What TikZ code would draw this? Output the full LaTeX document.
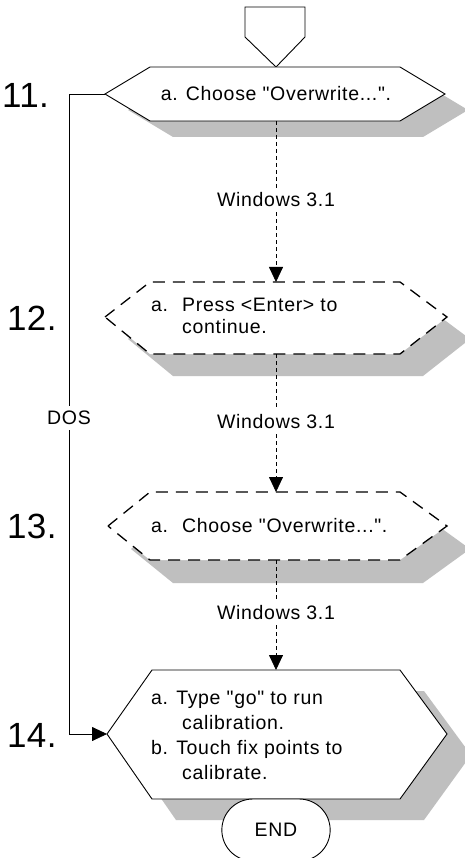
\documentclass[tikz,border=0pt]{standalone}
\usepackage{fontspec}
\setmainfont{Liberation Sans}[LetterSpace=3.5,Ligatures=TeXOff]
\newfontfamily\stepfont{Liberation Sans}[Ligatures=TeXOff,LetterSpace=1]
\usetikzlibrary{arrows.meta,shapes.misc}
\begin{document}
\begin{tikzpicture}[x=1pt,y=-1pt,
  txt/.style={font=\fontsize{19.5}{22}\selectfont, inner sep=0pt, align=left},
  stepnum/.style={font=\stepfont\fontsize{35}{35}\selectfont, anchor=base west, inner sep=0pt},
  shade/.style={fill=black!25, draw=none},
  hexsolid/.style={draw=black, fill=white, line width=0.9pt, line join=miter},
  hexdash/.style={draw=black, fill=white, line width=1.3pt, dash pattern=on 12pt off 8pt},
  flow/.style={line width=0.8pt, dash pattern=on 4pt off 3pt},
  arr/.style={-{Triangle[width=14pt,length=15pt]}},
  lbl/.style={font=\fontsize{19.5}{22}\selectfont, inner sep=5pt},
]
\clip (0,0) rectangle (465,858);
\fill[white] (0,0) rectangle (465,858);

% shadows
\fill[shade] (128,110) -- (173,83) -- (423,83) -- (468,110) -- (423,137) -- (173,137) -- cycle;
\fill[shade] (128,339) -- (173,304) -- (423,304) -- (470,339) -- (423,376) -- (173,376) -- cycle;
\fill[shade] (131,549) -- (173,515) -- (423,515) -- (470,549) -- (423,583) -- (173,583) -- cycle;
\fill[shade] (131,755) -- (176,691) -- (424,691) -- (471,755) -- (424,820) -- (176,820) -- cycle;

% off-page connector
\draw[line width=0.9pt] (245,7) -- (305,7) -- (305,37) -- (276,67) -- (245,37) -- cycle;

% hexagons
\draw[hexsolid] (105,94) -- (150,67) -- (400,67) -- (445,94) -- (400,121) -- (150,121) -- cycle;
\coordinate (h11t) at (276,67);
\coordinate (h11b) at (276,121);
\coordinate (h11l) at (105,94);

\draw[hexdash] (105,317) -- (150,282) -- (400,282) -- (447,317) -- (400,354) -- (150,354) -- cycle;
\coordinate (h12t) at (276,282);
\coordinate (h12b) at (276,354);

\draw[hexdash] (108,526) -- (150,492) -- (400,492) -- (447,526) -- (400,560) -- (150,560) -- cycle;
\coordinate (h13t) at (276,492);
\coordinate (h13b) at (276,560);

\draw[hexsolid] (107,734) -- (152,670) -- (400,670) -- (447,734) -- (400,799) -- (152,799) -- cycle;
\coordinate (h14t) at (276,670);
\coordinate (h14l) at (107,734);

% texts
\node[txt] (t11) at (276,94) {a. Choose "Overwrite...".};
\node[txt, anchor=west] (t12) at (151,316) {\makebox[31pt][l]{a.}Press <Enter> to\\\hspace*{31pt}continue.};
\node[txt, anchor=west] (t13) at (151,526) {\makebox[31pt][l]{a.}Choose "Overwrite...".};
\node[txt, anchor=west, font=\fontsize{19.5}{25}\selectfont] (t14) at (151,735) {a. Type "go" to run\\\hspace*{31pt}calibration.\\b. Touch fix points to\\\hspace*{31pt}calibrate.};

% step numbers
\node[stepnum] (n11) at (2,108) {11.};
\node[stepnum] (n12) at (7,330) {12.};
\node[stepnum] (n13) at (7,538) {13.};
\node[stepnum] (n14) at (7,747) {14.};

% labels
\node[lbl] (w1) at (276,200) {Windows 3.1};
\node[lbl] (w2) at (276,422) {Windows 3.1};
\node[lbl] (w3) at (276,613) {Windows 3.1};
\node[lbl] (dos) at (69,418) {DOS};

% connectors
\draw[flow] (h11b) -- (w1);
\draw[flow,arr] (w1) -- (h12t);
\draw[flow] (h12b) -- (w2);
\draw[flow,arr] (w2) -- (h13t);
\draw[flow] (h13b) -- (w3);
\draw[flow,arr] (w3) -- (h14t);
\draw[line width=0.8pt] (h11l) -| (dos.north);
\draw[line width=0.8pt,arr] (dos.south) |- (h14l);

% end terminal
\node[rounded rectangle, draw, fill=white, line width=0.9pt, minimum width=115pt, minimum height=62pt, font=\fontsize{19.5}{22}\selectfont] (endnode) at (276,830) {END};
\end{tikzpicture}
\end{document}
